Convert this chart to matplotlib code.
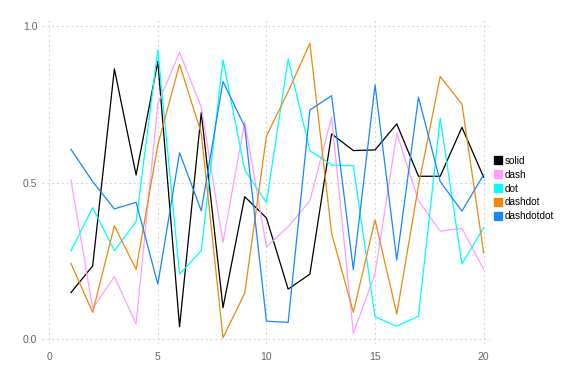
import numpy as np
import matplotlib.pyplot as plt
from matplotlib.lines import Line2D

x = np.arange(1, 21)

solid = [0.149, 0.234, 0.862, 0.524, 0.886, 0.040, 0.723, 0.101, 0.455, 0.387,
         0.160, 0.208, 0.655, 0.602, 0.604, 0.687, 0.520, 0.520, 0.676, 0.517]
dash = [0.508, 0.099, 0.200, 0.049, 0.751, 0.915, 0.740, 0.309, 0.694, 0.295,
        0.359, 0.442, 0.708, 0.019, 0.210, 0.657, 0.442, 0.345, 0.354, 0.223]
dot = [0.282, 0.420, 0.283, 0.375, 0.923, 0.208, 0.283, 0.891, 0.540, 0.436,
       0.894, 0.602, 0.556, 0.553, 0.072, 0.042, 0.074, 0.705, 0.240, 0.356]
dashdot = [0.242, 0.086, 0.362, 0.223, 0.620, 0.877, 0.657, 0.005, 0.147, 0.648,
           0.790, 0.944, 0.338, 0.086, 0.381, 0.081, 0.490, 0.838, 0.750, 0.276]
dashdotdot = [0.606, 0.503, 0.416, 0.437, 0.176, 0.595, 0.410, 0.822, 0.678, 0.058,
              0.054, 0.731, 0.777, 0.223, 0.811, 0.253, 0.772, 0.503, 0.409, 0.525]

names = ['solid', 'dash', 'dot', 'dashdot', 'dashdotdot']
series = [solid, dash, dot, dashdot, dashdotdot]
colors = ['#000000', '#ff9eff', '#00ffff', '#ec8a10', '#1a86ff']

fig = plt.figure(figsize=(6, 4), dpi=96)
ax = fig.add_axes([0.073, 0.104, 0.778, 0.847])

for s, c in zip(series, colors):
    ax.plot(x, s, color=c, lw=0.95)

ax.set_xlim(-0.33, 20.3)
ax.set_ylim(-0.015, 1.022)
ax.set_xticks([0, 5, 10, 15, 20])
ax.set_yticks([0.0, 0.5, 1.0])
ax.set_yticklabels(['0.0', '0.5', '1.0'])
ax.grid(True, color='#d6d6e4', linestyle=(0, (2, 2.5)), lw=0.8)
ax.set_axisbelow(True)
for sp in ax.spines.values():
    sp.set_visible(False)
ax.tick_params(length=0, labelsize=7.8, labelcolor='#666666')
ax.tick_params(axis='x', pad=6)
ax.tick_params(axis='y', pad=3.5)
for lab in ax.get_xticklabels() + ax.get_yticklabels():
    lab.set_family('Liberation Sans')

handles = [Line2D([], [], marker='s', ls='none', color=c, markersize=5.5) for c in colors]
fig.legend(handles, names, loc='center left', bbox_to_anchor=(0.843, 0.509),
           frameon=False, handlelength=0.6, handletextpad=0.4, labelspacing=0.38,
           prop={'family': 'Liberation Sans', 'size': 7.5})

fig.savefig('out.png', dpi=96)
